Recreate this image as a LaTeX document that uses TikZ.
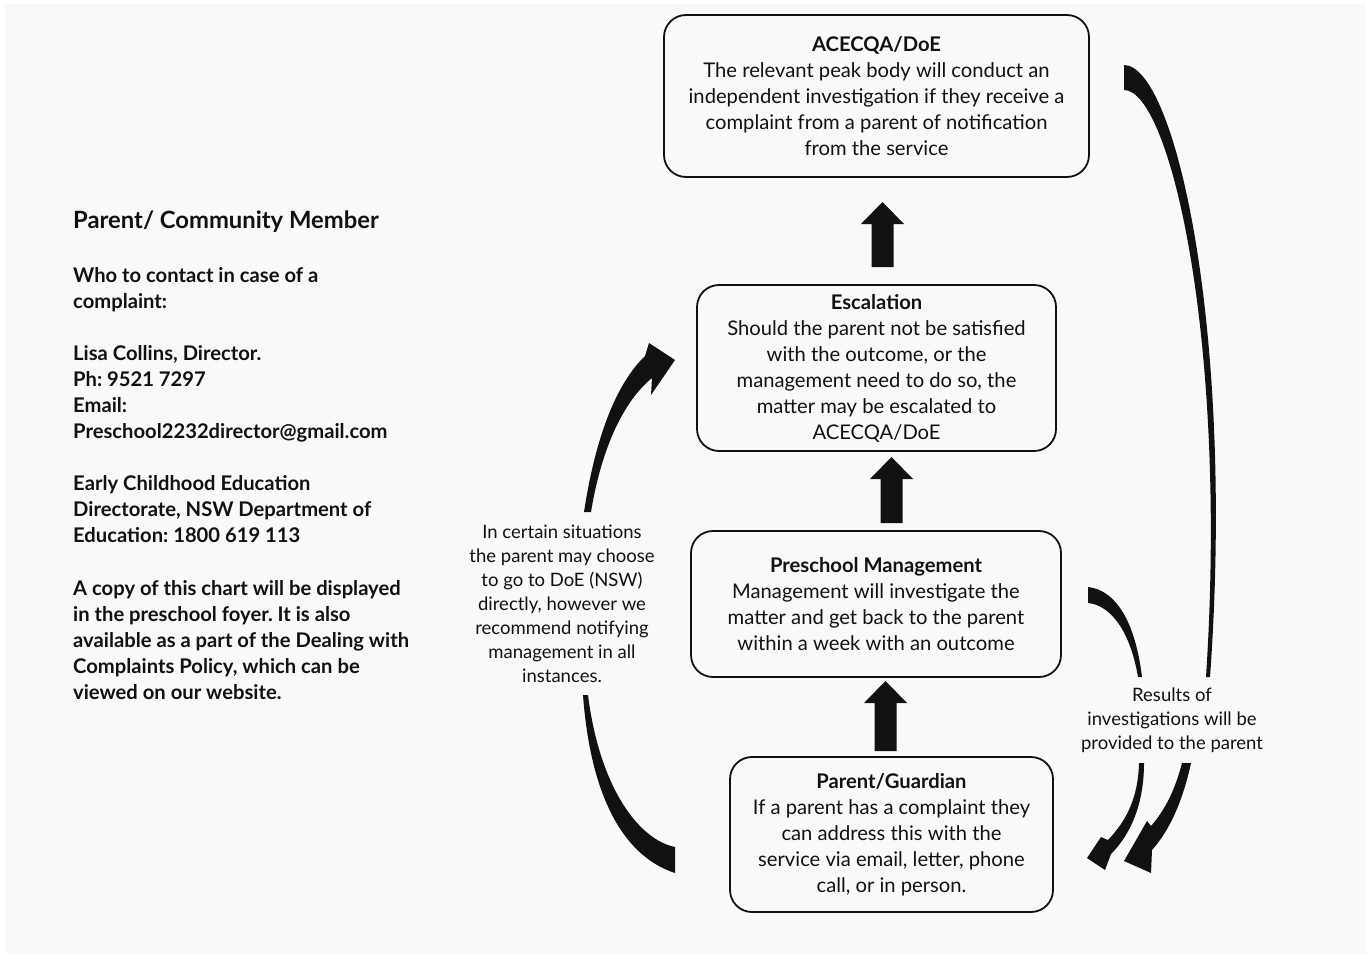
\documentclass[tikz,border=0pt]{standalone}
\usepackage{fontspec}
\setmainfont{Lato}
\definecolor{bg}{HTML}{F9F9F9}
\definecolor{ink}{HTML}{111111}
\frenchspacing
\begin{document}
\begin{tikzpicture}[x=1pt,y=-1pt,
  box/.style={draw=ink, line width=1.8pt, rounded corners=22pt, align=center, inner sep=0pt, text=ink, font=\fontsize{20.2}{26}\selectfont},
  blk/.style={fill=ink, draw=none},
  lefttext/.style={align=left, anchor=north west, inner sep=0pt, text=ink, font=\bfseries\fontsize{20.2}{26}\selectfont},
  small/.style={align=center, inner sep=0pt, text=ink, font=\fontsize{18.5}{24}\selectfont}]
\useasboundingbox (0,0) rectangle (1372,958);
\fill[white] (0,0) rectangle (1372,958);
\fill[bg] (5,4) rectangle (1366,954);

% boxes
\node[box, minimum width=425pt, minimum height=162pt] (acecqa) at (876.5,96) {\textbf{ACECQA/DoE}\\The relevant peak body will conduct an\\independent investigation if they receive a\\complaint from a parent of notification\\from the service};
\node[box, minimum width=359pt, minimum height=166pt] (esc) at (876.5,368) {\textbf{Escalation}\\Should the parent not be satisfied\\with the outcome, or the\\management need to do so, the\\matter may be escalated to\\ACECQA/DoE};
\node[box, minimum width=370pt, minimum height=146pt] (pm) at (876,604) {\textbf{Preschool Management}\\Management will investigate the\\matter and get back to the parent\\within a week with an outcome};
\node[box, minimum width=323pt, minimum height=155pt] (pg) at (891.5,834.5) {\textbf{Parent/Guardian}\\If a parent has a complaint they\\can address this with the\\service via email, letter, phone\\call, or in person.};

% block arrows
\fill[blk] (871.5,267) -- (871.5,224) -- (861,224) -- (882.5,202) -- (904,224) -- (893.5,224) -- (893.5,267) -- cycle;
\fill[blk] (880.5,523) -- (880.5,479) -- (870,479) -- (891.5,457) -- (913,479) -- (902.5,479) -- (902.5,523) -- cycle;
\fill[blk] (874.5,751) -- (874.5,703) -- (864,703) -- (885.5,681) -- (907,703) -- (896.5,703) -- (896.5,751) -- cycle;

% left text
\node[lefttext, font=\bfseries\fontsize{23.8}{26}\selectfont] (title) at (73,210) {\strut Parent/ Community Member};
\node[lefttext] (who) at (73,264) {\strut Who to contact in case of a\\complaint:};
\node[lefttext] (lisa) at (73,342.5) {\strut Lisa Collins, Director.\\Ph: 9521 7297\\Email:\\Preschool2232director@gmail.com};
\node[lefttext] (ece) at (73,472) {\strut Early Childhood Education\\Directorate, NSW Department of\\Education: 1800 619 113};
\node[lefttext] (copy) at (73,577.5) {\strut A copy of this chart will be displayed\\in the preschool foyer. It is also\\available as a part of the Dealing with\\Complaints Policy, which can be\\viewed on our website.};

% middle and right notes
\node[small] (doe) at (562,603.5) {In certain situations\\the parent may choose\\to go to DoE (NSW)\\directly, however we\\recommend notifying\\management in all\\instances.};
\node[small] (results) at (1172,720.5) {Results of\\investigations will be\\provided to the parent};

% curved tapered arrows
\fill[blk] (584,512) .. controls (595,440) and (615,385) .. (645,356) -- (649,343) -- (675,360) -- (651,395) -- (652,378) .. controls (625,400) and (602,445) .. (591,512) -- cycle;
\fill[blk] (583,695) .. controls (590,790) and (620,855) .. (675,873) -- (675,847) .. controls (640,840) and (600,790) .. (588,695) -- cycle;
\fill[blk] (1124,65) .. controls (1175,65) and (1235,330) .. (1210,677) -- (1206,677) .. controls (1228,340) and (1170,90) .. (1124,90) -- cycle;
\fill[blk] (1088,587) .. controls (1115,590) and (1135,620) .. (1142,677) -- (1138,677) .. controls (1130,630) and (1110,605) .. (1088,603) -- cycle;
\fill[blk] (1139,763) .. controls (1138,800) and (1125,822) .. (1108,840) -- (1101,837) -- (1087,858) -- (1105,870) -- (1111,854) .. controls (1130,835) and (1144,805) .. (1144,763) -- cycle;
\fill[blk] (1182,763) .. controls (1175,790) and (1165,810) .. (1151,826) -- (1147,821) -- (1124,861) -- (1151,873) -- (1152,850) .. controls (1170,830) and (1183,800) .. (1191,763) -- cycle;
\end{tikzpicture}
\end{document}
